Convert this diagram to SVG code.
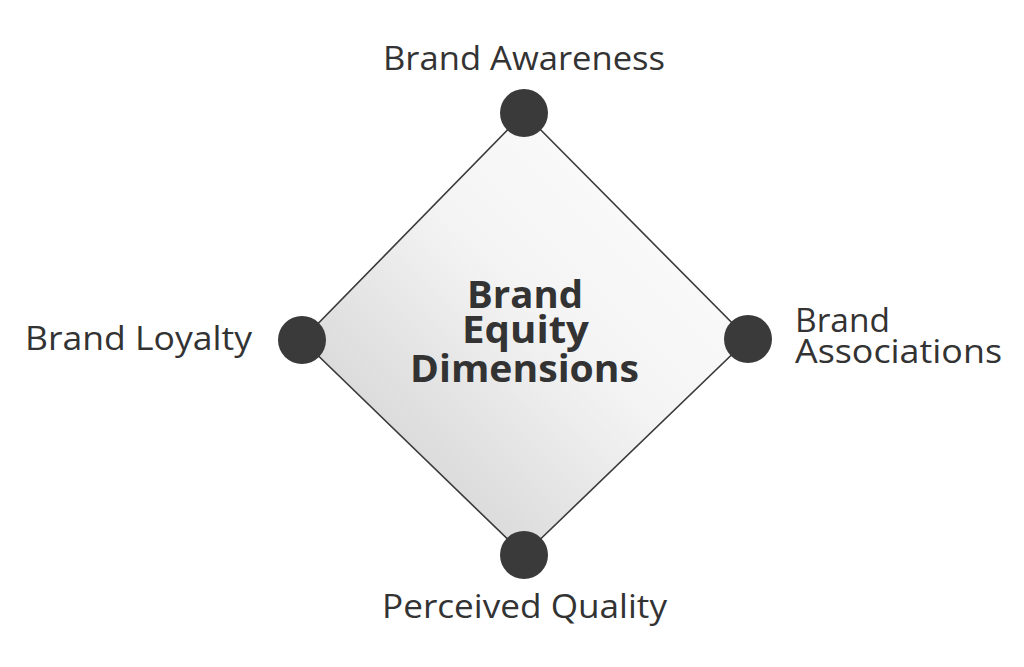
<svg xmlns="http://www.w3.org/2000/svg" width="1024" height="667" viewBox="0 0 1024 667">
<defs>
<linearGradient id="g" x1="0" y1="1" x2="1" y2="0" gradientUnits="objectBoundingBox">
<stop offset="0" stop-color="#c8c8c8"/>
<stop offset="0.55" stop-color="#f4f4f4"/>
<stop offset="1" stop-color="#ffffff"/>
</linearGradient>
</defs>
<style>
.dot{fill:#3a3a3a}
.lbl{font-family:"Open Sans","Liberation Sans",sans-serif;font-size:32px;fill:#333}
.ttl{font-family:"Open Sans","Liberation Sans",sans-serif;font-size:37px;font-weight:bold;fill:#333}
</style>
<rect width="1024" height="667" fill="#fff"/>
<g id="connectors">
<polygon points="524,113 748,339 524,555 302,340" fill="url(#g)" stroke="#3a3a3a" stroke-width="1.6"/>
</g>
<g id="center">
<text class="ttl" x="467" y="308" textLength="116" lengthAdjust="spacingAndGlyphs">Brand</text>
<text class="ttl" x="462" y="343" textLength="127" lengthAdjust="spacingAndGlyphs">Equity</text>
<text class="ttl" x="410" y="382" textLength="229" lengthAdjust="spacingAndGlyphs">Dimensions</text>
</g>
<g id="awareness">
<circle class="dot" cx="524" cy="113" r="24"/>
<text class="lbl" x="383" y="70" textLength="282" lengthAdjust="spacingAndGlyphs">Brand Awareness</text>
</g>
<g id="associations">
<circle class="dot" cx="748" cy="339" r="24"/>
<text class="lbl" x="795" y="332" textLength="95" lengthAdjust="spacingAndGlyphs">Brand</text>
<text class="lbl" x="795" y="363" textLength="207" lengthAdjust="spacingAndGlyphs">Associations</text>
</g>
<g id="quality">
<circle class="dot" cx="524" cy="555" r="24"/>
<text class="lbl" x="382" y="618" textLength="285" lengthAdjust="spacingAndGlyphs">Perceived Quality</text>
</g>
<g id="loyalty">
<circle class="dot" cx="302" cy="340" r="24"/>
<text class="lbl" x="25" y="350" textLength="227" lengthAdjust="spacingAndGlyphs">Brand Loyalty</text>
</g>
</svg>
